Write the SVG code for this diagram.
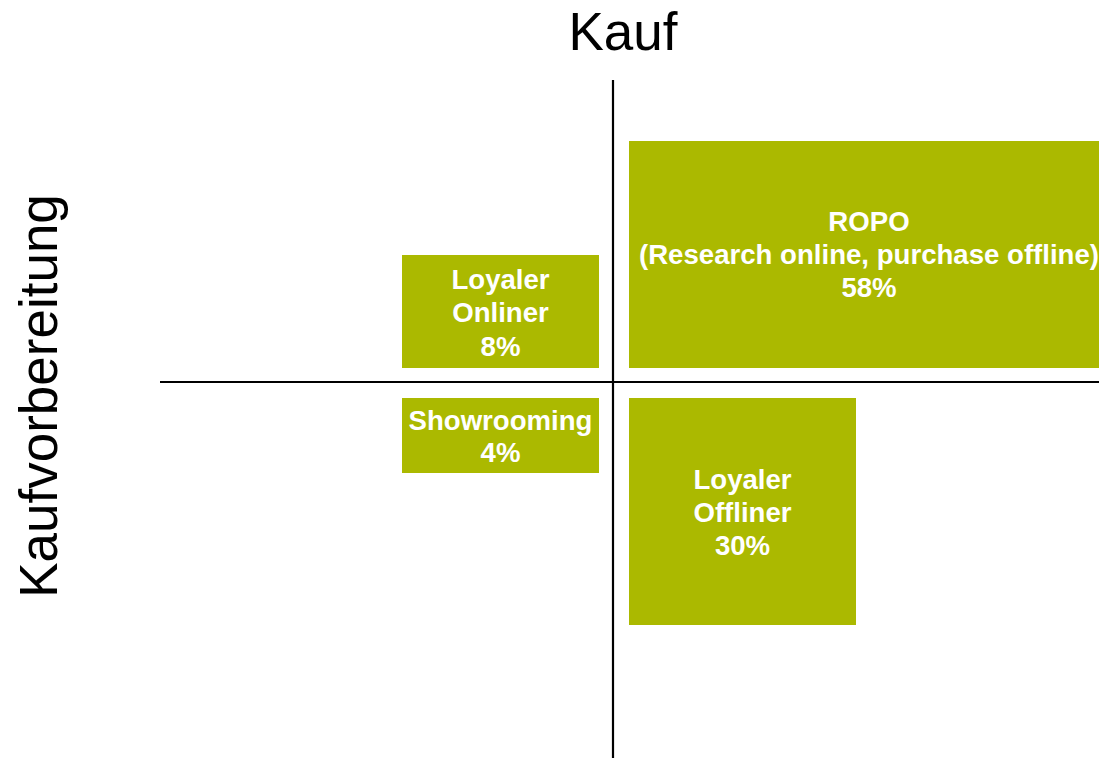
<svg xmlns="http://www.w3.org/2000/svg" width="1099" height="758" viewBox="0 0 1099 758">
<style>
.box{fill:#abb900}
.lbl{font-family:"Liberation Sans",Arial,sans-serif;font-weight:bold;font-size:27.6px;fill:#fff;text-anchor:middle}
.axis{font-family:"Liberation Sans",Arial,sans-serif;font-size:53px;fill:#000;text-anchor:middle}
.ln{stroke:#000;stroke-width:2.2}
</style>
<rect width="1099" height="758" fill="#fff"/>
<g id="axes">
<line class="ln" x1="613" y1="80" x2="613" y2="758"/>
<line class="ln" x1="160" y1="382" x2="1099" y2="382"/>
</g>
<text class="axis" x="623" y="50">Kauf</text>
<text class="axis" transform="translate(57,396) rotate(-90)">Kaufvorbereitung</text>
<g id="ropo">
<rect class="box" x="629" y="141" width="480" height="227"/>
<text class="lbl" x="869" y="231">ROPO</text>
<text class="lbl" x="869" y="264">(Research online, purchase offline)</text>
<text class="lbl" x="869" y="297">58%</text>
</g>
<g id="loyaler-onliner">
<rect class="box" x="402" y="255" width="197" height="113"/>
<text class="lbl" x="500.5" y="289">Loyaler</text>
<text class="lbl" x="500.5" y="322">Onliner</text>
<text class="lbl" x="500.5" y="356">8%</text>
</g>
<g id="showrooming">
<rect class="box" x="402" y="398" width="197" height="75"/>
<text class="lbl" x="500.5" y="430">Showrooming</text>
<text class="lbl" x="500.5" y="462">4%</text>
</g>
<g id="loyaler-offliner">
<rect class="box" x="629" y="398" width="227" height="227"/>
<text class="lbl" x="742.5" y="489">Loyaler</text>
<text class="lbl" x="742.5" y="522">Offliner</text>
<text class="lbl" x="742.5" y="555">30%</text>
</g>
</svg>
